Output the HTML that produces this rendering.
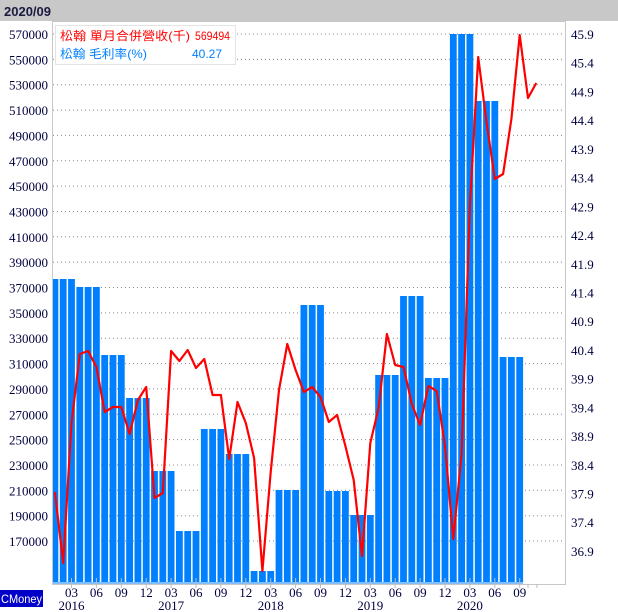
<!DOCTYPE html>
<html><head><meta charset="utf-8"><style>
body{margin:0;background:#fff}
svg{display:block}
</style></head><body>
<svg width="618" height="612" xmlns="http://www.w3.org/2000/svg" font-family="Liberation Serif, serif">
<rect x="0" y="0" width="618" height="612" fill="#fff"/>
<rect x="0" y="0" width="618" height="21" fill="#c8c8c8"/>
<text x="4" y="16" font-family="Liberation Sans, sans-serif" font-weight="bold" font-size="13" fill="#1a1a40">2020/09</text>
<g id="grid" stroke="#888" stroke-dasharray="1,3" stroke-width="1"></g>
<g id="bars" fill="#0080ff"></g>
<rect x="52" y="582" width="471" height="2" fill="#7fbfff"/>
<polyline id="line" fill="none" stroke="#ff0000" stroke-width="2.2" stroke-linejoin="round"/>
<rect x="52.5" y="21.5" width="513" height="563" fill="none" stroke="#c8c8c8"/>
<g id="ll" font-size="13" fill="#000040" text-anchor="end"></g>
<g id="rl" font-size="13" fill="#000040"></g>
<g id="bl" font-size="13" fill="#000040" text-anchor="middle"></g>
<rect x="55.5" y="25.5" width="180" height="39" fill="#fff" stroke="#e4e4e4"/>
<g font-family="Liberation Sans, Noto Sans CJK TC, sans-serif" font-size="12">
<text x="60" y="40" fill="#ff0000" textLength="130" lengthAdjust="spacingAndGlyphs">松翰 單月合併營收(千)</text>
<text x="230" y="40" fill="#ff0000" text-anchor="end" textLength="35" lengthAdjust="spacingAndGlyphs">569494</text>
<text x="60" y="58" fill="#0080ff" textLength="87" lengthAdjust="spacingAndGlyphs">松翰 毛利率(%)</text>
<text x="222" y="58" fill="#0080ff" text-anchor="end">40.27</text>
</g>
<rect x="0" y="590" width="43" height="17" fill="#0000c8"/>
<text x="21.5" y="603" font-family="Liberation Sans, sans-serif" font-size="11.5" fill="#fff" text-anchor="middle" textLength="41" lengthAdjust="spacingAndGlyphs">CMoney</text>
</svg>
<script>
const ns="http://www.w3.org/2000/svg";
function el(p,t,a,txt){const e=document.createElementNS(ns,t);for(const k in a)e.setAttribute(k,a[k]);if(txt!==undefined)e.textContent=txt;document.getElementById(p).appendChild(e);}
for(let k=0;k<21;k++){const v=570000-k*20000;const y=34+k*25.35;
el('grid','line',{x1:53,x2:566,y1:y.toFixed(1),y2:y.toFixed(1)});
el('ll','text',{x:48,y:(y+5).toFixed(1)},String(v));}
for(let k=0;k<19;k++){const y=34+k*28.72;el('rl','text',{x:571,y:(y+5).toFixed(1)},(45.9-k*0.5).toFixed(1));}
const q=[279,287,355,398,471,531,429,454,571,490,305,491,515,375,296,378,34,101,357];
for(let i=0;i<57;i++){const x=51.5+8.3*i;const t=q[Math.floor(i/3)];
let l=Math.max(x,53);el('bars','rect',{x:l.toFixed(1),y:t,width:(x+6.8-l).toFixed(1),height:582-t});}
const ly=[492,563,423,354,351,367,412,407,407,434,400,387,498,493,351,361,350,368,359,395,395,459,402,423,458,571,472,390,344,370,392,387,397,422,415,446,480,556,443,408,334,365,367,404,425,386,391,446,539,454,205,57,122,179,174,119,35,98,83];
document.getElementById('line').setAttribute('points',ly.map((y,i)=>(54.9+8.3*i).toFixed(1)+','+y).join(' '));
for(let i=2;i<57;i+=3){const x=54.9+8.3*i;const m=(i%12)+1;
el('bl','line',{x1:x,x2:x,y1:578,y2:588,stroke:'#bbb'});
el('bl','text',{x:x.toFixed(1),y:597},String(m).padStart(2,'0'));
if(m==3)el('bl','text',{x:x.toFixed(1),y:610},String(2016+Math.floor(i/12)));}
for(const x of [528,537]){el('bl','line',{x1:x,x2:x,y1:584,y2:588,stroke:'#bbb'});}
</script>
</body></html>
